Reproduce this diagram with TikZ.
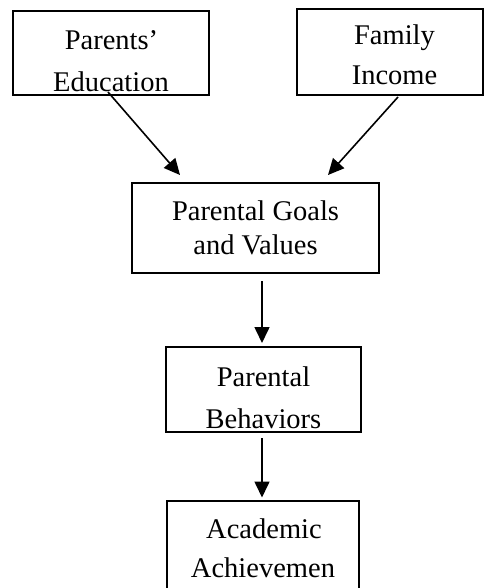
\documentclass[tikz,border=0pt]{standalone}
\usepackage{fontspec}
\setmainfont{Liberation Serif}
\usetikzlibrary{arrows.meta,calc}
\begin{document}
\begin{tikzpicture}[x=1pt,y=1pt,
  boxst/.style={draw, line width=1.8pt, inner sep=0pt, outer sep=0pt},
  lbl/.style={anchor=base, inner sep=0pt, font=\fontsize{28.5}{33}\selectfont},
  arr/.style={line width=1.6pt, -{Triangle[length=16pt,width=15pt]}}]
\clip (0,0) rectangle (484,-588);
% boxes
\node[boxst, minimum width=196pt, minimum height=84pt] (b1) at (111,-53) {};
\node[boxst, minimum width=186pt, minimum height=86pt] (b2) at (390,-52) {};
\node[boxst, minimum width=247pt, minimum height=90pt] (b3) at (255.5,-228) {};
\node[boxst, minimum width=195pt, minimum height=85pt] (b4) at (263.5,-389.5) {};
\node[boxst, minimum width=192pt, minimum height=110pt] (b5) at (263,-556) {};
% texts, clipped to their boxes
\begin{scope}
  \clip (b1.south west) rectangle (b1.north east);
  \node[lbl] (t1a) at (111.5,-50) {Parents’};
  \node[lbl] (t1b) at (111,-92) {Education};
\end{scope}
\begin{scope}
  \clip (b2.south west) rectangle (b2.north east);
  \node[lbl] (t2a) at (394.5,-45) {Family};
  \node[lbl] (t2b) at (394.5,-85) {Income};
\end{scope}
\begin{scope}
  \clip (b3.south west) rectangle (b3.north east);
  \node[lbl] (t3a) at (255.5,-220.5) {Parental Goals};
  \node[lbl] (t3b) at (255.5,-254) {and Values};
\end{scope}
\begin{scope}
  \clip (b4.south west) rectangle (b4.north east);
  \node[lbl] (t4a) at (263.5,-386) {Parental};
  \node[lbl] (t4b) at (263.5,-428) {Behaviors};
\end{scope}
\begin{scope}
  \clip (b5.south west) rectangle (b5.north east);
  \node[lbl] (t5a) at (264,-538) {Academic};
  \node[lbl] (t5b) at (263,-577) {Achievemen};
\end{scope}
% connectors
\coordinate (a1s) at ($(b1.south)+(-3,3)$);
\coordinate (a1e) at ($(b3.north west)+(48,8)$);
\coordinate (a2s) at ($(b2.south)+(8,-2)$);
\coordinate (a2e) at ($(b3.north west)+(196,8)$);
\draw[arr] (a1s) -- (a1e);
\draw[arr] (a2s) -- (a2e);
\coordinate (a3s) at ($(b3.south)+(6.5,-8)$);
\coordinate (a3e) at ($(b4.north)+(-1.5,4)$);
\draw[arr] (a3s) -- (a3e);
\coordinate (a4s) at ($(b4.south)+(-1.5,-6)$);
\coordinate (a4e) at ($(b5.north)+(-1,3.5)$);
\draw[arr] (a4s) -- (a4e);
\end{tikzpicture}
\end{document}
